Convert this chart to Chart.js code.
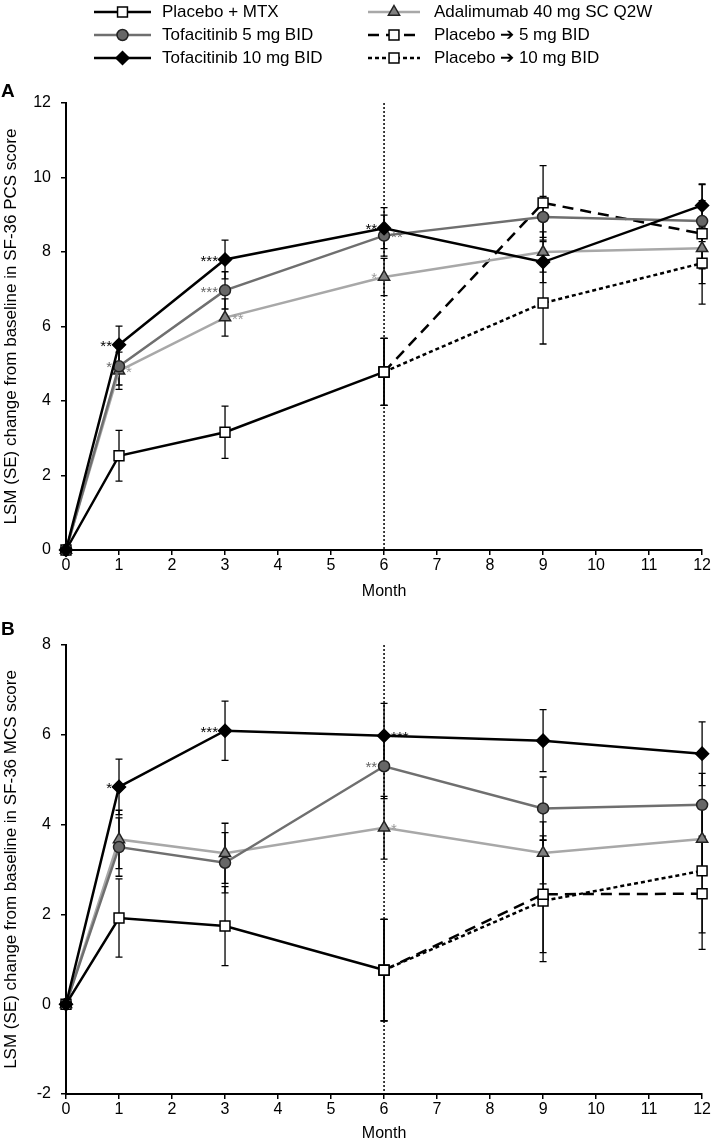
<!DOCTYPE html>
<html>
<head>
<meta charset="utf-8">
<script src="https://cdn.jsdelivr.net/npm/chart.js@4.4.1/dist/chart.umd.min.js"></script>
<style>
  html, body { margin: 0; padding: 0; background: #fff; }
  canvas { display: block; }
</style>
</head>
<body>
<canvas id="pcsChart" width="712" height="610"></canvas>
<canvas id="mcsChart" width="712" height="533"></canvas>
<script>
// months of assessment
var months = [0, 1, 3, 6, 9, 12];
var placeboMonths = [0, 1, 3, 6];
var switchMonths = [6, 9, 12];
var switchMonth = 6;

// A: SF-36 PCS, LSM change and SE
var pcsPlacebo = [0, 2.53, 3.16, 4.78];
var pcsPlaceboSE = [0, 0.68, 0.70, 0.90];
var pcsTofa5 = [0, 4.93, 6.97, 8.44, 8.94, 8.83];
var pcsTofa5SE = [0, 0.50, 0.50, 0.55, 0.55, 0.55];
var pcsTofa10 = [0, 5.51, 7.80, 8.64, 7.73, 9.25];
var pcsTofa10SE = [0, 0.50, 0.52, 0.55, 0.55, 0.56];
var pcsAda = [0, 4.81, 6.24, 7.33, 8.00, 8.10];
var pcsAdaSE = [0, 0.50, 0.50, 0.50, 0.54, 0.55];
var pcsPbo5 = [4.78, 9.32, 8.49];
var pcsPbo5SE = [0.90, 1.00, 1.34];
var pcsPbo10 = [4.78, 6.63, 7.70];
var pcsPbo10SE = [0.90, 1.10, 1.10];

// B: SF-36 MCS
var mcsPlacebo = [0, 1.92, 1.74, 0.76];
var mcsPlaceboSE = [0, 0.87, 0.88, 1.13];
var mcsTofa5 = [0, 3.50, 3.15, 5.30, 4.36, 4.44];
var mcsTofa5SE = [0, 0.65, 0.67, 0.72, 0.70, 0.70];
var mcsTofa10 = [0, 4.84, 6.09, 5.98, 5.87, 5.58];
var mcsTofa10SE = [0, 0.62, 0.66, 0.72, 0.69, 0.71];
var mcsAda = [0, 3.67, 3.36, 3.93, 3.37, 3.68];
var mcsAdaSE = [0, 0.65, 0.67, 0.70, 0.69, 0.70];
var mcsPbo5 = [0.76, 2.45, 2.46];
var mcsPbo5SE = [1.13, 1.30, 1.24];
var mcsPbo10 = [0.76, 2.30, 2.97];
var mcsPbo10SE = [1.13, 1.35, 1.38];

// significance marks: [series, month, text, side]
var pcsStars = [
    ['tofa10', 1, '**', 'left'], ['tofa5', 1, '*', 'left'], ['ada', 1, '*', 'right'],
    ['tofa10', 3, '***', 'left'], ['tofa5', 3, '***', 'left'], ['ada', 3, '**', 'right'],
    ['tofa10', 6, '**', 'left'], ['tofa5', 6, '**', 'right'], ['ada', 6, '*', 'left']
];
var mcsStars = [
    ['tofa10', 1, '*', 'left'], ['tofa10', 3, '***', 'left'],
    ['tofa10', 6, '***', 'right'], ['tofa5', 6, '**', 'left'], ['ada', 6, '*', 'right']
];

var labels = {
    placebo: 'Placebo + MTX',
    tofa5: 'Tofacitinib 5 mg BID',
    tofa10: 'Tofacitinib 10 mg BID',
    ada: 'Adalimumab 40 mg SC Q2W',
    pbo5: 'Placebo \u2794 5 mg BID',
    pbo10: 'Placebo \u2794 10 mg BID'
};
var legendLeft = ['placebo', 'tofa5', 'tofa10'];
var legendRight = ['ada', 'pbo5', 'pbo10'];

var styles = {
    placebo: { borderColor: '#000', pointStyle: 'rect', pointRadius: 7, pointBackgroundColor: '#fff', pointBorderColor: '#000' },
    tofa5: { borderColor: '#6f6f6f', pointStyle: 'circle', pointRadius: 5.5, pointBackgroundColor: '#676767', pointBorderColor: '#222' },
    tofa10: { borderColor: '#000', pointStyle: 'rectRot', pointRadius: 6.5, pointBackgroundColor: '#000', pointBorderColor: '#000' },
    ada: { borderColor: '#a8a8a8', pointStyle: 'triangle', pointRadius: 6.5, pointBackgroundColor: '#808080', pointBorderColor: '#222' },
    pbo5: { borderColor: '#000', borderDash: [11, 7], pointStyle: 'rect', pointRadius: 7, pointBackgroundColor: '#fff', pointBorderColor: '#000' },
    pbo10: { borderColor: '#000', borderDash: [4, 3], pointStyle: 'rect', pointRadius: 7, pointBackgroundColor: '#fff', pointBorderColor: '#000' }
};
var starColors = { tofa10: '#000', tofa5: '#666', ada: '#9a9a9a' };

var FONT = "'Liberation Sans', Arial, Helvetica, sans-serif";
Chart.defaults.font.family = FONT;
Chart.defaults.color = '#000';

function series(key, xs, ys, se) {
    var s = styles[key];
    return {
        key: key,
        label: labels[key],
        data: xs.map(function(x, i) { return { x: x, y: ys[i] }; }),
        se: se,
        clip: false,
        borderColor: s.borderColor,
        borderWidth: 2.5,
        borderDash: s.borderDash || [],
        pointStyle: s.pointStyle,
        pointRadius: s.pointRadius,
        pointHoverRadius: s.pointRadius,
        pointBackgroundColor: s.pointBackgroundColor,
        pointBorderColor: s.pointBorderColor,
        pointBorderWidth: 1.5,
        fill: false,
        tension: 0
    };
}

var extras = {
    id: 'extras',
    beforeDatasetsDraw: function(chart) {
        var ctx = chart.ctx, xs = chart.scales.x, ys = chart.scales.y, area = chart.chartArea;
        ctx.save();
        var x6 = xs.getPixelForValue(switchMonth);
        ctx.strokeStyle = '#000';
        ctx.lineWidth = 1.5;
        ctx.setLineDash([2, 2]);
        ctx.beginPath();
        ctx.moveTo(x6, area.top);
        ctx.lineTo(x6, area.bottom);
        ctx.stroke();
        ctx.setLineDash([]);
        ctx.lineWidth = 1.3;
        chart.data.datasets.forEach(function(ds) {
            ds.data.forEach(function(p, i) {
                var e = ds.se[i];
                if (!e) {
                    return;
                }
                var x = xs.getPixelForValue(p.x),
                    y1 = ys.getPixelForValue(p.y + e),
                    y2 = ys.getPixelForValue(p.y - e);
                ctx.beginPath();
                ctx.moveTo(x, y1); ctx.lineTo(x, y2);
                ctx.moveTo(x - 3.5, y1); ctx.lineTo(x + 3.5, y1);
                ctx.moveTo(x - 3.5, y2); ctx.lineTo(x + 3.5, y2);
                ctx.stroke();
            });
        });
        ctx.restore();
    },
    afterDraw: function(chart, args, opts) {
        var ctx = chart.ctx, xs = chart.scales.x, ys = chart.scales.y;
        ctx.save();
        // significance marks
        ctx.font = '15px ' + FONT;
        ctx.textBaseline = 'middle';
        (opts.stars || []).forEach(function(st) {
            var ds = chart.data.datasets.filter(function(d) { return d.key === st[0]; })[0];
            var pt = ds.data.filter(function(p) { return p.x === st[1]; })[0];
            var px = xs.getPixelForValue(pt.x), py = ys.getPixelForValue(pt.y);
            ctx.fillStyle = starColors[st[0]];
            ctx.textAlign = st[3] === 'left' ? 'right' : 'left';
            ctx.fillText(st[2], st[3] === 'left' ? px - 7 : px + 7, py + 2);
        });
        // panel letter
        ctx.font = 'bold 19px ' + FONT;
        ctx.fillStyle = '#000';
        ctx.textAlign = 'left';
        ctx.fillText(opts.letter, 1, opts.letterY);
        ctx.restore();
    }
};

var legendPlugin = {
    id: 'legendBox',
    afterDraw: function(chart) {
        var ctx = chart.ctx;
        var find = function(key) {
            return chart.data.datasets.filter(function(d) { return d.key === key; })[0];
        };
        var rows = [12, 35, 58];
        var cols = [
            { keys: legendLeft, x0: 94, x1: 151, tx: 162 },
            { keys: legendRight, x0: 368, x1: 420, tx: 434 }
        ];
        ctx.save();
        cols.forEach(function(col) {
            col.keys.forEach(function(key, r) {
                var ds = find(key), y = rows[r], xm = (col.x0 + col.x1) / 2;
                ctx.strokeStyle = ds.borderColor;
                ctx.lineWidth = ds.borderWidth;
                ctx.setLineDash(ds.borderDash);
                ctx.beginPath();
                ctx.moveTo(col.x0, y);
                ctx.lineTo(col.x1, y);
                ctx.stroke();
                ctx.setLineDash([]);
                ctx.fillStyle = ds.pointBackgroundColor;
                ctx.strokeStyle = ds.pointBorderColor;
                ctx.lineWidth = ds.pointBorderWidth;
                Chart.helpers.drawPoint(ctx, {
                    pointStyle: ds.pointStyle, radius: ds.pointRadius, rotation: 0, borderWidth: ds.pointBorderWidth
                }, xm, y);
                ctx.fillStyle = '#000';
                ctx.font = '17px ' + FONT;
                ctx.textAlign = 'left';
                ctx.textBaseline = 'middle';
                ctx.fillText(ds.label, col.tx, y);
            });
        });
        ctx.restore();
    }
};

function axisStyle() {
    return {
        grid: { display: true, drawOnChartArea: false, drawTicks: true, tickLength: 5, color: '#000', lineWidth: 1.5 },
        border: { display: true, color: '#000', width: 2 }
    };
}

function makeChart(id, datasets, yMin, yMax, yTitle, opts) {
    var xAxis = axisStyle(), yAxis = axisStyle();
    xAxis.type = 'linear';
    xAxis.min = 0;
    xAxis.max = 12;
    xAxis.ticks = { stepSize: 1, font: { size: 16 }, color: '#000', padding: 1 };
    xAxis.title = { display: true, text: 'Month', font: { size: 16 }, color: '#000', padding: { top: 0, bottom: opts.titleBottom } };
    xAxis.afterFit = function(s) { s.height = opts.xHeight; };
    yAxis.min = yMin;
    yAxis.max = yMax;
    yAxis.ticks = { stepSize: 2, font: { size: 16 }, color: '#000', padding: 10 };
    yAxis.title = { display: true, text: yTitle, font: { size: 17 }, color: '#000', padding: { top: 1, bottom: 0 } };
    yAxis.afterFit = function(s) { s.width = 66; };

    return new Chart(document.getElementById(id), {
        type: 'line',
        data: { datasets: datasets },
        options: {
            responsive: false,
            animation: false,
            devicePixelRatio: 1,
            layout: { padding: { top: opts.top, left: 0, right: 9, bottom: 0 } },
            scales: { x: xAxis, y: yAxis },
            plugins: {
                legend: { display: false },
                tooltip: { enabled: false },
                extras: { stars: opts.stars, letter: opts.letter, letterY: opts.letterY }
            }
        },
        plugins: opts.withLegend ? [extras, legendPlugin] : [extras]
    });
}

makeChart('pcsChart', [
    series('tofa10', months, pcsTofa10, pcsTofa10SE),
    series('placebo', placeboMonths, pcsPlacebo, pcsPlaceboSE),
    series('tofa5', months, pcsTofa5, pcsTofa5SE),
    series('ada', months, pcsAda, pcsAdaSE),
    series('pbo5', switchMonths, pcsPbo5, pcsPbo5SE),
    series('pbo10', switchMonths, pcsPbo10, pcsPbo10SE)
], 0, 12, 'LSM (SE) change from baseline in SF-36 PCS score',
    { top: 103, xHeight: 60, titleBottom: 9, stars: pcsStars, letter: 'A', letterY: 92, withLegend: true });

makeChart('mcsChart', [
    series('tofa10', months, mcsTofa10, mcsTofa10SE),
    series('placebo', placeboMonths, mcsPlacebo, mcsPlaceboSE),
    series('tofa5', months, mcsTofa5, mcsTofa5SE),
    series('ada', months, mcsAda, mcsAdaSE),
    series('pbo5', switchMonths, mcsPbo5, mcsPbo5SE),
    series('pbo10', switchMonths, mcsPbo10, mcsPbo10SE)
], -2, 8, 'LSM (SE) change from baseline in SF-36 MCS score',
    { top: 35, xHeight: 49, titleBottom: 0, stars: mcsStars, letter: 'B', letterY: 20, withLegend: false });
</script>
</body>
</html>
